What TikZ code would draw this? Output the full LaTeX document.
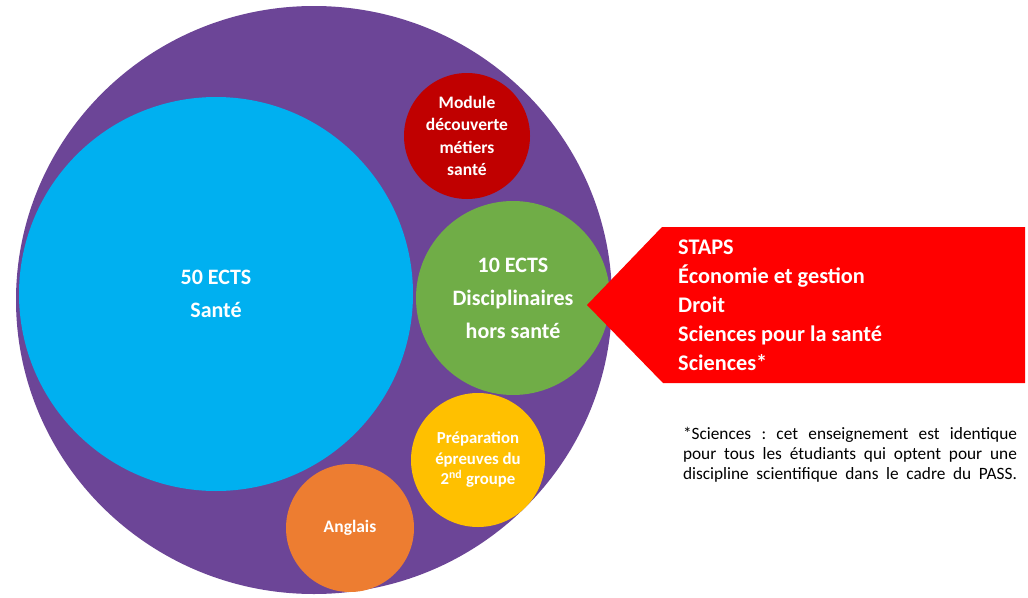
\documentclass[tikz,border=0pt]{standalone}
\usepackage{fontspec}
\setmainfont{Carlito}
\frenchspacing
\usetikzlibrary{shapes.geometric}
\definecolor{purp}{HTML}{6C4597}
\definecolor{sky}{HTML}{00B0F0}
\definecolor{deepred}{HTML}{C00000}
\definecolor{grn}{HTML}{70AD47}
\definecolor{ylw}{HTML}{FFC000}
\definecolor{org}{HTML}{ED7D31}
\definecolor{brightred}{HTML}{FF0000}
\begin{document}
\begin{tikzpicture}[x=1pt,y=-1pt,
  bubble/.style={circle,inner sep=0pt,draw=none,text=white,align=center},
  bigtxt/.style={font=\bfseries\fontsize{22}{33}\selectfont},
  smalltxt/.style={font=\bfseries\fontsize{17.5}{22.5}\selectfont},
  boxtxt/.style={text=white,align=left,inner sep=0pt,font=\bfseries\fontsize{22.3}{29}\selectfont},
  notetxt/.style={text=black,align=left,inner sep=0pt,font=\fontsize{17.3}{20}\selectfont}]
\useasboundingbox (0,0) rectangle (1028,597);
\fill[white] (0,0) rectangle (1028,597);
% outer purple disc
\node[ellipse,fill=purp,inner sep=0pt,minimum width=596pt,minimum height=588pt] (outer) at (314,300) {};
% inner circles
\node[bubble,fill=sky,minimum size=394pt,bigtxt] (sante) at (216,294) {50 ECTS\\Santé};
\node[bubble,fill=deepred,minimum size=126pt,smalltxt] (module) at (467,136) {Module\\découverte\\métiers\\santé};
\node[bubble,fill=grn,minimum size=194pt,bigtxt] (disc) at (513,298) {10 ECTS\\Disciplinaires\\hors santé};
\node[bubble,fill=ylw,minimum size=134pt,font=\bfseries\fontsize{16.8}{20.5}\selectfont] (prep) at (478,460) {Préparation\\épreuves du\\2\textsuperscript{nd} groupe};
\node[bubble,fill=org,minimum size=128pt,smalltxt] (anglais) at (350,528) {Anglais};
% red pointer
\coordinate (tip) at (587,305);
\fill[brightred] (tip) -- (662,227) -- (1025,227) -- (1025,383) -- (663,383) -- cycle;
\node[boxtxt,anchor=west] (list) at (678,305) {STAPS\\Économie et gestion\\Droit\\Sciences pour la santé\\Sciences*};
% footnote
\node[notetxt] (note) at (850,455) {%
\makebox[334pt][s]{*Sciences : cet enseignement est identique}\\
\makebox[334pt][s]{pour tous les étudiants qui optent pour une}\\
\makebox[334pt][s]{discipline scientifique dans le cadre du PASS.}};
\end{tikzpicture}
\end{document}
